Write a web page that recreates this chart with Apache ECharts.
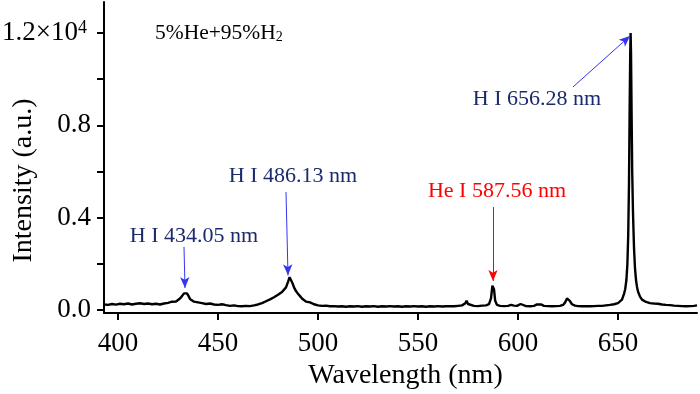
<!DOCTYPE html>
<html>
<head>
<meta charset="utf-8">
<script src="https://cdn.jsdelivr.net/npm/echarts@6/dist/echarts.min.js"></script>
<style>html,body{margin:0;padding:0;background:#fff}#c{width:700px;height:394px}</style>
</head>
<body>
<div id="c"></div>
<script>
// Wavelength (nm)
var wavelengths = [393,395,397,399,401,403,405,407,409,411,413,415,417,419,421,423,425,427,428,429,430,431,432,433,433.8,434.5,435.3,436,437,438,439,440,442,444,446,448,450,452,454,456,458,460,462,464,466,468,470,472,474,476,478,480,481,482,483,484,485,485.8,486.5,487.3,488,489,490,491,492,493,494,495,496,497,498,500,502,504,506,508,510,512,514,516,518,520,522,524,526,528,530,532,534,536,538,540,542,544,546,548,550,552,554,556,558,560,562,564,566,568,570,572,573.5,574.3,575,576,578,580,582,584,585.5,586.5,587.2,587.6,588,588.6,589.5,591,593,595,596.5,597.2,598,599.5,600.5,601.3,602,604,606,608,609.5,610.5,611.5,613,615,617,619,621,622.5,623.5,624.5,625.2,626,627,628.5,630,632,634,636,638,640,642,644,646,648,650,651,652,653,653.6,654.2,654.7,655.1,655.5,655.8,656.1,656.3,656.5,656.8,657.1,657.5,658,658.5,659,659.5,660,661,662,663,664,665,666,668,670,672,674,676,678,680,682,684,686,688,689.5];
// Intensity (units of 10^4 a.u.)
var intensities = [0.024,0.022,0.026,0.023,0.027,0.025,0.028,0.024,0.027,0.029,0.026,0.028,0.025,0.027,0.024,0.028,0.031,0.036,0.040,0.037,0.042,0.050,0.060,0.072,0.078,0.072,0.060,0.048,0.040,0.036,0.038,0.033,0.030,0.026,0.028,0.024,0.022,0.025,0.021,0.018,0.020,0.017,0.016,0.018,0.017,0.020,0.024,0.030,0.038,0.046,0.055,0.066,0.072,0.078,0.086,0.098,0.122,0.142,0.135,0.115,0.098,0.082,0.070,0.060,0.050,0.042,0.036,0.034,0.033,0.028,0.025,0.020,0.018,0.019,0.016,0.017,0.015,0.016,0.014,0.016,0.015,0.017,0.014,0.016,0.015,0.017,0.014,0.016,0.015,0.017,0.015,0.016,0.014,0.016,0.015,0.017,0.015,0.016,0.014,0.016,0.015,0.017,0.015,0.016,0.017,0.016,0.018,0.020,0.028,0.040,0.026,0.019,0.018,0.017,0.019,0.020,0.025,0.050,0.105,0.113,0.090,0.040,0.022,0.018,0.017,0.018,0.022,0.027,0.019,0.018,0.024,0.026,0.018,0.017,0.016,0.018,0.024,0.032,0.024,0.018,0.017,0.016,0.017,0.018,0.022,0.032,0.050,0.054,0.038,0.025,0.019,0.017,0.016,0.017,0.016,0.017,0.018,0.018,0.020,0.022,0.025,0.030,0.034,0.045,0.070,0.090,0.130,0.200,0.320,0.550,0.850,1.100,1.200,1.120,0.850,0.600,0.420,0.270,0.180,0.130,0.100,0.080,0.058,0.045,0.038,0.035,0.032,0.030,0.028,0.027,0.024,0.022,0.021,0.019,0.018,0.017,0.016,0.017,0.018,0.020];

var xTicks = [400,450,500,550,600,650];
var yTicks = [0,0.4,0.8,1.2];
var yMinorTicks = [0,0.2,0.4,0.6,0.8,1.0,1.2];

// Annotations: label, arrow start [nm, I], arrow end [nm, I]
var annotLabels = ['H I 434.05 nm','H I 486.13 nm','He I 587.56 nm','H I 656.28 nm'];
var arrowFrom = [[433.0,0.273],[484.0,0.511],[587.5,0.446],[627.5,0.966]];
var arrowTo = [[433.5,0.095],[485.0,0.150],[587.5,0.126],[656.0,1.187]];

var FONT = '"Liberation Serif","Times New Roman",serif';
var navy = '#1b2a6b';
var blue = '#3535f0';
var red = '#ff0000';

var seriesData = wavelengths.map(function(w,i){return [w,intensities[i]];});

var arrowColors = [blue,blue,red,blue];
var markLines = arrowFrom.map(function(f,i){
  return [
    {coord:f, symbol:'none', lineStyle:{color:arrowColors[i],width:1,type:'solid'}},
    {coord:arrowTo[i], symbol:'arrow', symbolSize:[7,11]}
  ];
});

var chart = echarts.init(document.getElementById('c'), null, {renderer:'canvas'});
chart.setOption({
  animation:false,
  backgroundColor:'#ffffff',
  grid:{left:104,right:3,top:2,bottom:81,containLabel:false,outerBoundsMode:'none'},
  xAxis:{
    type:'value', min:393, max:689.5,
    name:'Wavelength (nm)', nameLocation:'middle', nameGap:49, nameMoveOverlap:false,
    nameTextStyle:{fontFamily:FONT,fontSize:28,color:'#000',padding:[0,0,0,10]},
    axisLine:{onZero:false,lineStyle:{color:'#000',width:2}},
    axisTick:{show:true,inside:false,length:7,lineStyle:{color:'#000',width:2},customValues:xTicks},
    axisLabel:{fontFamily:FONT,fontSize:27,color:'#000',margin:17,customValues:xTicks},
    splitLine:{show:false}
  },
  yAxis:{
    type:'value', min:-0.013, max:1.334,
    name:'Intensity (a.u.)', nameLocation:'middle', nameGap:66, nameRotate:90, nameMoveOverlap:false,
    nameTextStyle:{fontFamily:FONT,fontSize:28,color:'#000',padding:[0,46,0,0]},
    axisLine:{onZero:false,lineStyle:{color:'#000',width:2}},
    axisTick:{show:true,inside:false,length:7,lineStyle:{color:'#000',width:2},customValues:yMinorTicks},
    axisLabel:{
      fontFamily:FONT,fontSize:27,color:'#000',margin:13,customValues:yTicks,
      formatter:function(v){
        if(Math.abs(v-1.2)<1e-6) return '{a|1.2×10}{s|4}';
        return v.toFixed(1);
      },
      rich:{
        a:{fontFamily:FONT,fontSize:27,color:'#000'},
        s:{fontFamily:FONT,fontSize:18,color:'#000',verticalAlign:'top',padding:[0,4,2,0]}
      }
    },
    splitLine:{show:false}
  },
  series:[{
    type:'line', data:seriesData, showSymbol:false, symbol:'none',
    lineStyle:{color:'#000',width:2.4}, z:3,
    markLine:{
      silent:true, animation:false, symbol:['none','arrow'],
      label:{show:false},
      lineStyle:{width:1,type:'solid'},
      data:markLines
    }
  }],
  graphic:[
    {type:'text', left:155, top:22, style:{
      text:'{m|5%He+95%H}{b|2}',
      rich:{
        m:{fontFamily:FONT,fontSize:21.5,fill:'#000'},
        b:{fontFamily:FONT,fontSize:14,fill:'#000',verticalAlign:'bottom'}
      }
    }},
    {type:'text', x:194, y:236, style:{text:annotLabels[0],fontFamily:FONT,fontSize:22,fill:navy,align:'center',verticalAlign:'middle'}},
    {type:'text', x:293, y:176, style:{text:annotLabels[1],fontFamily:FONT,fontSize:22,fill:navy,align:'center',verticalAlign:'middle'}},
    {type:'text', x:497, y:191, style:{text:annotLabels[2],fontFamily:FONT,fontSize:22,fill:red,align:'center',verticalAlign:'middle'}},
    {type:'text', x:537, y:99, style:{text:annotLabels[3],fontFamily:FONT,fontSize:22,fill:navy,align:'center',verticalAlign:'middle'}}
  ]
});
</script>
</body>
</html>
